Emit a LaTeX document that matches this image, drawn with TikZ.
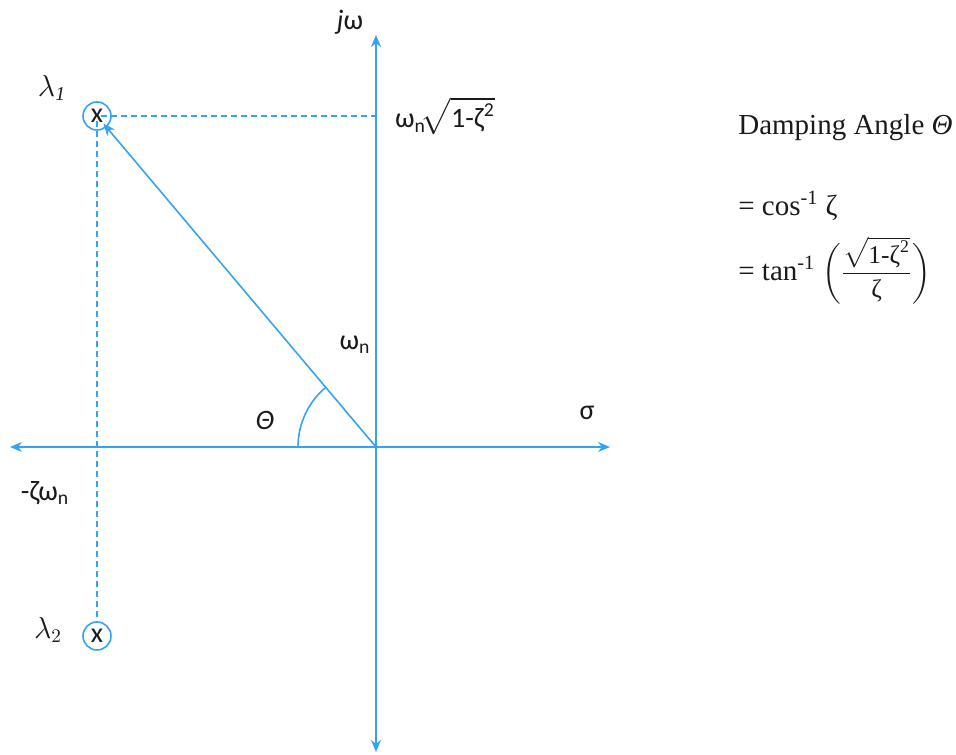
\documentclass[tikz,border=0pt]{standalone}
\usepackage{amsmath}
\usepackage{fontspec}
\setmainfont{Liberation Serif}
\newfontfamily\calfont{Carlito}
\usepackage{tikz}
\usetikzlibrary{positioning,arrows.meta,calc}
\definecolor{axisblue}{HTML}{33A3F4}
\definecolor{ink}{HTML}{1A1A1A}
\tikzset{
  axis/.style={draw=axisblue,line width=0.9pt,
    {Stealth[length=2.4mm,width=2mm]}-{Stealth[length=2.4mm,width=2mm]}},
  guide/.style={draw=axisblue,line width=0.9pt,dash pattern=on 1.2mm off 0.8mm},
  pole/.style={circle,draw=axisblue,line width=0.9pt,minimum size=5.6mm,
    inner sep=0pt,text=ink,font=\calfont\fontsize{16}{18}\selectfont},
  lbl/.style={text=ink,font=\calfont\fontsize{16}{19}\selectfont,inner sep=1pt},
  note/.style={text=ink,font=\fontsize{16.5}{20}\selectfont,anchor=west,inner sep=0pt},
  fl/.style={-{Stealth[length=2.4mm,width=2mm]},draw=axisblue,line width=0.9pt},
}

\begin{document}
\begin{tikzpicture}[x=0.2mm,y=0.2mm]
  \useasboundingbox (0,0) rectangle (956,755);
  \coordinate (O) at (376,308);
  \coordinate (west) at (10,308);
  \coordinate (east) at (610,308);
  \coordinate (north) at (376,720);
  \coordinate (south) at (376,3);
  \draw[axis] (west) -- (east);
  \draw[axis] (south) -- (north);
  \node[pole] (p1) at (97,639) {x};
  \node[pole] (p2) at (97,119) {x};
  \draw[guide] ([xshift=0.8mm]p1.center) -- (p1 -| O);
  \draw[guide] ([yshift=-1mm]p1.center) -- (p2.north);
  \draw[fl,shorten >=2mm] (O) -- (p1.center);
  \draw[axisblue,line width=0.9pt] ([xshift=-15.6mm]O) arc[start angle=180,end angle=130,radius=15.6mm];
  \node[lbl] (l1) at (52,667) {$\lambda_{\mathit{1}}$};
  \node[lbl] (l2) at (48,125) {$\lambda_2$};
  \node[lbl] (jw) at (350,733) {\textit{j}ω};
  \node[lbl,anchor=west] (wy) at (393,639) {ω\textsubscript{n}$\!\sqrt{\text{1-ζ}^{\text{2}}}$};
  \node[lbl] (wn) at (355,410) {ω\textsubscript{n}};
  \node[lbl] (th) at (265,335) {\textit{Θ}};
  \node[lbl] (sg) at (587,342) {σ};
  \node[lbl] (zw) at (45,262) {-ζω\textsubscript{n}};
  \node[note] (dmp) at (738,627) {Damping Angle \textit{Θ}};
  \node[note,below=15.5mm of dmp.west,anchor=west] (cosr) {= cos\textsuperscript{-1} ζ};
  \node[note,below=13mm of cosr.west,anchor=west] (tanr) {= tan\textsuperscript{-1} {\fontsize{14.5}{17}\selectfont$\biggl(\dfrac{\sqrt{\text{1-ζ}^{\text{2}}}}{\text{ζ}}\biggr)$}};
\end{tikzpicture}
\end{document}
